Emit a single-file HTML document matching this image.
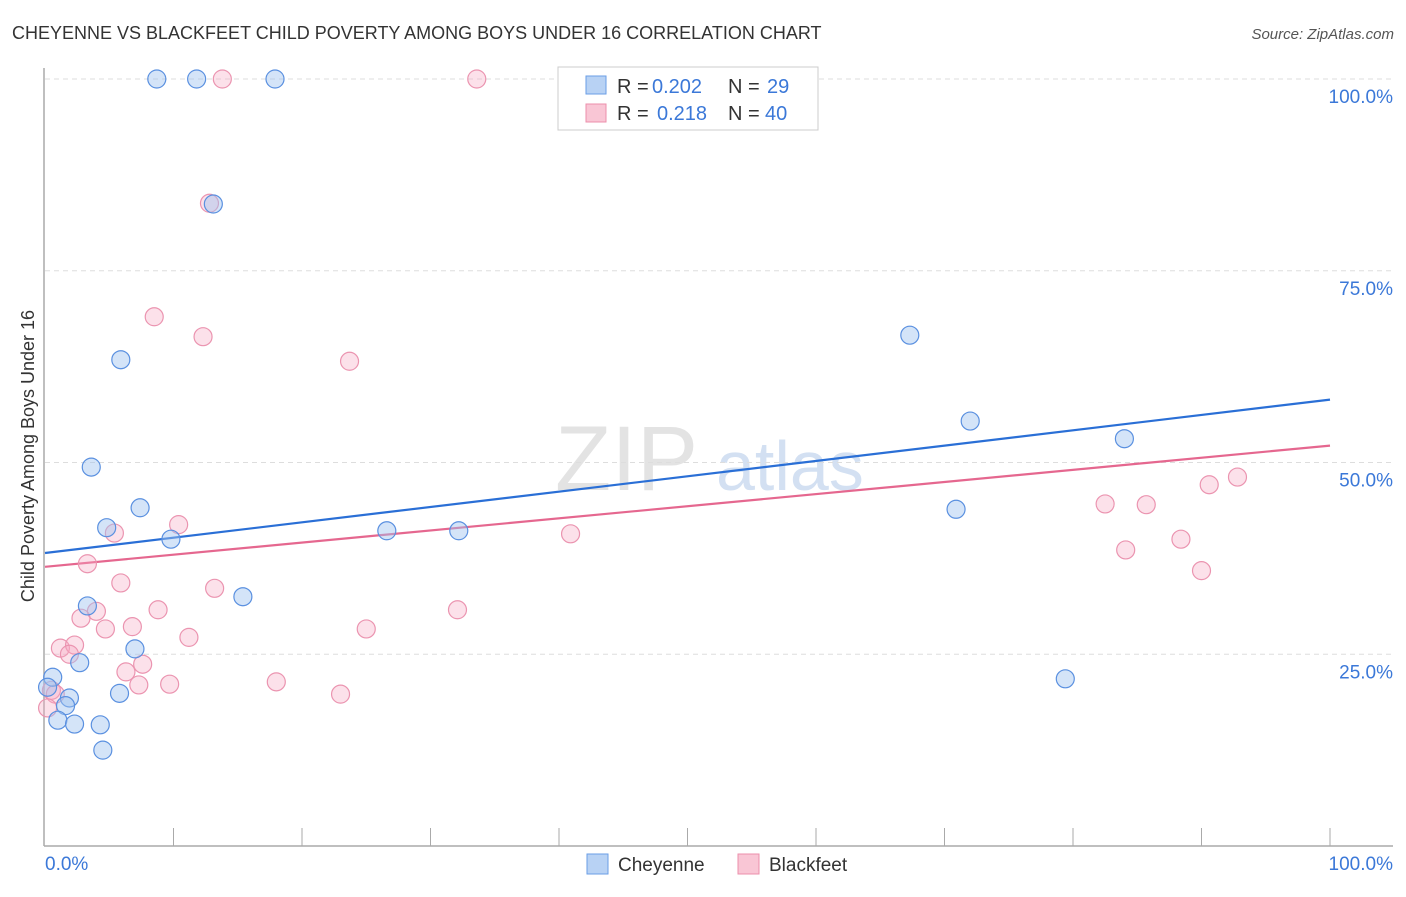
<!DOCTYPE html>
<html><head><meta charset="utf-8"><style>
body{margin:0;background:#fff;font-family:"Liberation Sans",sans-serif}
svg text{font-family:"Liberation Sans",sans-serif}
</style></head><body>
<svg id="c" width="1406" height="892" viewBox="0 0 1406 892">
<text x="12" y="39" font-size="18" fill="#333">CHEYENNE VS BLACKFEET CHILD POVERTY AMONG BOYS UNDER 16 CORRELATION CHART</text>
<text x="1394" y="39" font-size="15" fill="#555" text-anchor="end" font-style="italic">Source: ZipAtlas.com</text>
<text transform="translate(34,456) rotate(-90)" font-size="18" fill="#333" text-anchor="middle">Child Poverty Among Boys Under 16</text>
<g><text x="555" y="490" font-size="92" fill="#ddd" font-family="Liberation Serif" opacity="0.8">ZIP</text><text x="716" y="490" font-size="70" fill="#c9d9ef" opacity="0.8">atlas</text></g>
<g id="grid"></g><g id="axes"></g><g id="lines"></g><g id="pts"></g>
<g>
<rect x="558" y="67" width="260" height="63" fill="#fff" stroke="#ccc"/>
<rect x="586" y="76" width="20" height="18" fill="#b8d2f4" stroke="#6a9ee6"/>
<rect x="586" y="104" width="20" height="18" fill="#f9c6d5" stroke="#ec8fab"/>
<text x="617" y="93" font-size="20" fill="#333">R =</text>
<text x="652" y="93" font-size="20" fill="#3b78d8">0.202</text>
<text x="728" y="93" font-size="20" fill="#333">N =</text>
<text x="767" y="93" font-size="20" fill="#3b78d8">29</text>
<text x="617" y="120" font-size="20" fill="#333">R =</text>
<text x="657" y="120" font-size="20" fill="#3b78d8">0.218</text>
<text x="728" y="120" font-size="20" fill="#333">N =</text>
<text x="765" y="120" font-size="20" fill="#3b78d8">40</text>
</g>
<g>
<rect x="587" y="854" width="21" height="20" fill="#b8d2f4" stroke="#6a9ee6"/>
<text x="618" y="871" font-size="19" fill="#333">Cheyenne</text>
<rect x="738" y="854" width="21" height="20" fill="#f9c6d5" stroke="#ec8fab"/>
<text x="769" y="871" font-size="19" fill="#333">Blackfeet</text>
</g>
</svg>
<script>
const yTicks=[25,50,75,100];
const yTickLabels=["25.0%","50.0%","75.0%","100.0%"];
const cheX=[8.7,11.8,17.9,13.1,5.9,3.6,7.4,4.8,9.8,15.4,3.3,7.0,2.7,0.6,0.2,1.9,1.6,5.8,1.0,2.3,4.3,4.5,26.6,32.2,67.3,72.0,84.0,70.9,79.4];
const cheY=[100,100,100,83.7,63.4,49.4,44.1,41.5,40.0,32.5,31.3,25.7,23.9,22.0,20.7,19.3,18.3,19.9,16.4,15.9,15.8,12.5,41.1,41.1,66.6,55.4,53.1,43.9,21.8];
const blkX=[13.8,33.6,46.7,12.8,8.5,12.3,23.7,10.4,5.4,40.9,3.3,5.9,13.2,4.0,8.8,32.1,2.8,4.7,6.8,25.0,11.2,1.2,2.3,1.9,7.6,6.3,7.3,9.7,18.0,23.0,0.5,0.8,0.2,82.5,85.7,84.1,88.4,90.6,92.8,90.0];
const blkY=[100,100,100,83.8,69.0,66.4,63.2,41.9,40.8,40.7,36.8,34.3,33.6,30.6,30.8,30.8,29.7,28.3,28.6,28.3,27.2,25.8,26.2,25.0,23.7,22.7,21.0,21.1,21.4,19.8,20.3,19.8,18.0,44.6,44.5,38.6,40.0,47.1,48.1,35.9];
const cheTrend=[38.2,58.2];
const blkTrend=[36.4,52.2];
const NS="http://www.w3.org/2000/svg";
const X=v=>45+v*12.85, Y=v=>846-v*7.67;
function mk(t,a,p){const e=document.createElementNS(NS,t);for(const k in a)e.setAttribute(k,a[k]);document.getElementById(p).appendChild(e);return e;}
yTicks.forEach((t,i)=>{
 const g=mk('line',{x1:45,x2:1393,y1:Y(t),y2:Y(t),stroke:'#ddd','stroke-dasharray':'5,4'},'grid');
 
 
 const l=mk('text',{x:1393,y:Y(t)+24,'font-size':19,fill:'#3b78d8','text-anchor':'end'},'grid');
 l.textContent=yTickLabels[i];
 
 
});
mk('line',{x1:44,x2:44,y1:68,y2:846,stroke:'#aaa','stroke-width':1.5},'axes');
mk('line',{x1:44,x2:1393,y1:846,y2:846,stroke:'#aaa','stroke-width':1.5},'axes');
for(let i=1;i<=10;i++){const t=mk('line',{x1:X(i*10),x2:X(i*10),y1:828,y2:846,stroke:'#aaa'},'axes');
 
 }
const a0=mk('text',{x:45,y:870,'font-size':19,fill:'#3b78d8'},'axes');a0.textContent='0.0%';


const a1=mk('text',{x:1393,y:870,'font-size':19,fill:'#3b78d8','text-anchor':'end'},'axes');a1.textContent='100.0%';


function pts(xs,ys,f,s,n){xs.forEach((x,i)=>{const c=mk('circle',{cx:X(x),cy:Y(ys[i]),r:9,fill:f,stroke:s,'stroke-width':1.2},'pts');
 
 });}
pts(blkX,blkY,'rgba(246,170,195,0.35)','#eb94b0','blackfeet-point');
pts(cheX,cheY,'rgba(160,196,240,0.45)','#5a90e0','cheyenne-point');
const l1=mk('line',{x1:X(0),y1:Y(cheTrend[0]),x2:X(100),y2:Y(cheTrend[1]),stroke:'#2a6fd6','stroke-width':2.2},'lines');


const l2=mk('line',{x1:X(0),y1:Y(blkTrend[0]),x2:X(100),y2:Y(blkTrend[1]),stroke:'#e5678f','stroke-width':2.2},'lines');


</script>
</body></html>
